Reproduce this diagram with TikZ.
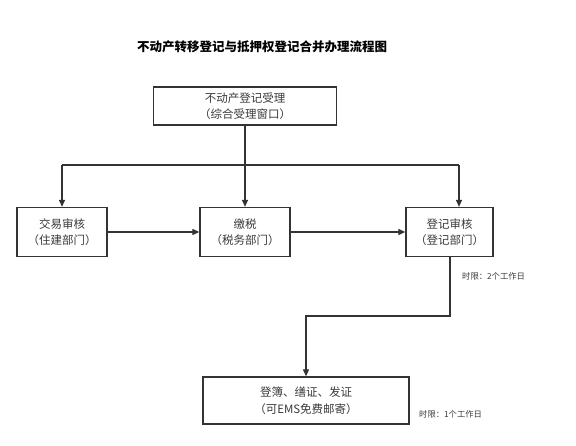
\documentclass[tikz,border=0pt]{standalone}
\usepackage{fontspec}
\setmainfont{Noto Sans CJK SC}
\usetikzlibrary{arrows.meta}
\definecolor{ln}{HTML}{333333}
\definecolor{tx}{HTML}{3A3A3A}
\tikzset{
  box/.style={draw=ln, line width=1.3pt, fill=white, inner sep=0pt, align=center, text=tx,
    font=\fontsize{11.5}{16.5}\selectfont},
  conn/.style={draw=ln, line width=1.2pt, -{Triangle[length=7pt,width=6pt]}},
  plain/.style={draw=ln, line width=1.2pt},
  note/.style={font=\fontsize{8.3}{10}\selectfont, text=tx, anchor=west, inner sep=0pt},
}
\begin{document}
\begin{tikzpicture}[x=1pt,y=-1pt]
\useasboundingbox (0,0) rectangle (576,446);
\node[font=\fontsize{12.5}{14}\selectfont\bfseries, text=black] (title) at (262,47) {不动产转移登记与抵押权登记合并办理流程图};
\node[box, minimum width=183pt, minimum height=38pt] (b1) at (245,106) {不动产登记受理\\（综合受理窗口）};
\node[box, minimum width=90pt, minimum height=49pt] (b2) at (62,232) {交易审核\\（住建部门）};
\node[box, minimum width=90pt, minimum height=49pt] (b3) at (245,232) {缴税\\（税务部门）};
\node[box, minimum width=87pt, minimum height=49pt] (b4) at (449.5,232) {登记审核\\（登记部门）};
\node[box, minimum width=206pt, minimum height=47pt] (b5) at (306,400.5) {登簿、缮证、发证\\（可EMS免费邮寄）};
\coordinate (j) at (245,165);
\coordinate (jl) at (62,165);
\coordinate (jr) at (459,165);
\coordinate (k) at (450,316);
\coordinate (kl) at (306,316);
\draw[plain] (b1.south) -- (j);
\draw[plain] (jl) -- (jr);
\draw[conn] (jl) -- (b2.north);
\draw[conn] (j) -- (b3.north);
\draw[conn] (jr) -- (jr |- b4.north);
\draw[conn] (b2.east) -- (b3.west);
\draw[conn] (b3.east) -- (b4.west);
\draw[conn] (b4.south -| k) -- (k) -- (kl) -- (b5.north);
\node[note] (n1) at (462,276) {时限：2个工作日};
\node[note] (n2) at (419,414) {时限：1个工作日};
\end{tikzpicture}
\end{document}
